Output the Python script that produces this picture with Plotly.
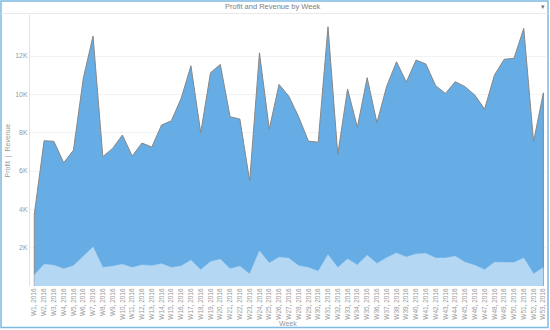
import plotly.graph_objects as go

weeks = [f"W{i}, 2016" for i in range(1, 54)]

revenue = [3750, 7580, 7550, 6430, 7090, 10830, 13040, 6750, 7180, 7880,
           6780, 7460, 7250, 8400, 8620, 9790, 11490, 8000, 11130, 11560,
           8830, 8710, 5480, 12170, 8190, 10520, 9900, 8830, 7560, 7500,
           13530, 6870, 10280, 8280, 10870, 8520, 10430, 11700, 10640, 11790,
           11580, 10450, 10050, 10660, 10400, 9960, 9230, 11000, 11830, 11880,
           13440, 7530, 10080]

profit = [570, 1130, 1080, 900, 1060, 1560, 2030, 970, 1030, 1130,
          960, 1100, 1060, 1160, 960, 1040, 1340, 850, 1270, 1390,
          900, 1030, 630, 1830, 1200, 1500, 1450, 1060, 960, 770,
          1630, 960, 1410, 1100, 1600, 1180, 1480, 1720, 1510, 1670,
          1700, 1460, 1460, 1550, 1240, 1080, 850, 1240, 1240, 1220,
          1460, 630, 970]

y_ticks = [2000, 4000, 6000, 8000, 10000, 12000]
y_tick_labels = ["2K", "4K", "6K", "8K", "10K", "12K"]

FONT = "Liberation Sans, Arial, Helvetica, sans-serif"

# plot area geometry (pixels) for paper coordinate conversion
L, R, T, B = 30, 546, 15, 286
def px(x):
    return (x - L) / (R - L)
def py(y):
    return (B - y) / (B - T)

fig = go.Figure()

fig.add_trace(go.Scatter(
    x=[weeks[0]] + weeks + [weeks[-1]],
    y=[0] + revenue + [0],
    mode="lines",
    fill="tozeroy",
    fillcolor="rgb(102,173,230)",
    line=dict(color="rgb(135,135,135)", width=1),
    name="Revenue",
    hoverinfo="skip",
))

fig.add_trace(go.Scatter(
    x=weeks,
    y=profit,
    mode="lines",
    fill="tozeroy",
    fillcolor="rgb(180,215,243)",
    line=dict(color="rgba(180,215,243,1)", width=0.5),
    name="Profit",
))

fig.update_layout(
    width=550, height=330,
    margin=dict(l=L, r=550 - R, t=T, b=330 - B),
    paper_bgcolor="white",
    plot_bgcolor="white",
    showlegend=False,
    font=dict(family=FONT, color="#999999"),
    xaxis=dict(
        type="category",
        range=[-0.44, 52.27],
        tickangle=-90,
        tickfont=dict(size=6.5, color="#999999"),
        showgrid=False,
        showline=False,
        ticks="",
        zeroline=False,
    ),
    yaxis=dict(
        range=[0, 14140],
        tickvals=y_ticks,
        ticktext=y_tick_labels,
        tickfont=dict(size=7, color="#999999"),
        showgrid=True,
        gridcolor="#f2f2f2",
        gridwidth=1,
        showline=True,
        linecolor="#e2e2e2",
        linewidth=1,
        zeroline=False,
        ticks="",
    ),
    shapes=[
        dict(type="rect", xref="paper", yref="paper",
             x0=px(1), x1=px(548), y0=py(327.5), y1=py(1),
             line=dict(color="rgb(125,185,225)", width=1.5), layer="above"),
        dict(type="line", xref="paper", yref="paper",
             x0=px(1), x1=px(548), y0=py(13.5), y1=py(13.5),
             line=dict(color="#e8e8e8", width=1)),
    ],
    annotations=[
        dict(text="Profit and Revenue by Week", xref="paper", yref="paper",
             x=px(273), y=py(7), showarrow=False,
             font=dict(size=7.5, color="#808080"), xanchor="center", yanchor="middle"),
        dict(text="▾", xref="paper", yref="paper",
             x=px(543), y=py(6), showarrow=False,
             font=dict(size=7, color="#777777"), xanchor="center", yanchor="middle"),
        dict(text="Profit  |  Revenue", xref="paper", yref="paper",
             x=px(7), y=0.5, showarrow=False, textangle=-90,
             font=dict(size=7, color="#999999"), xanchor="center", yanchor="middle"),
        dict(text="Week", xref="paper", yref="paper",
             x=0.5, y=py(323), showarrow=False,
             font=dict(size=7, color="#999999"), xanchor="center", yanchor="middle"),
    ],
)

fig.write_html("out.html")
